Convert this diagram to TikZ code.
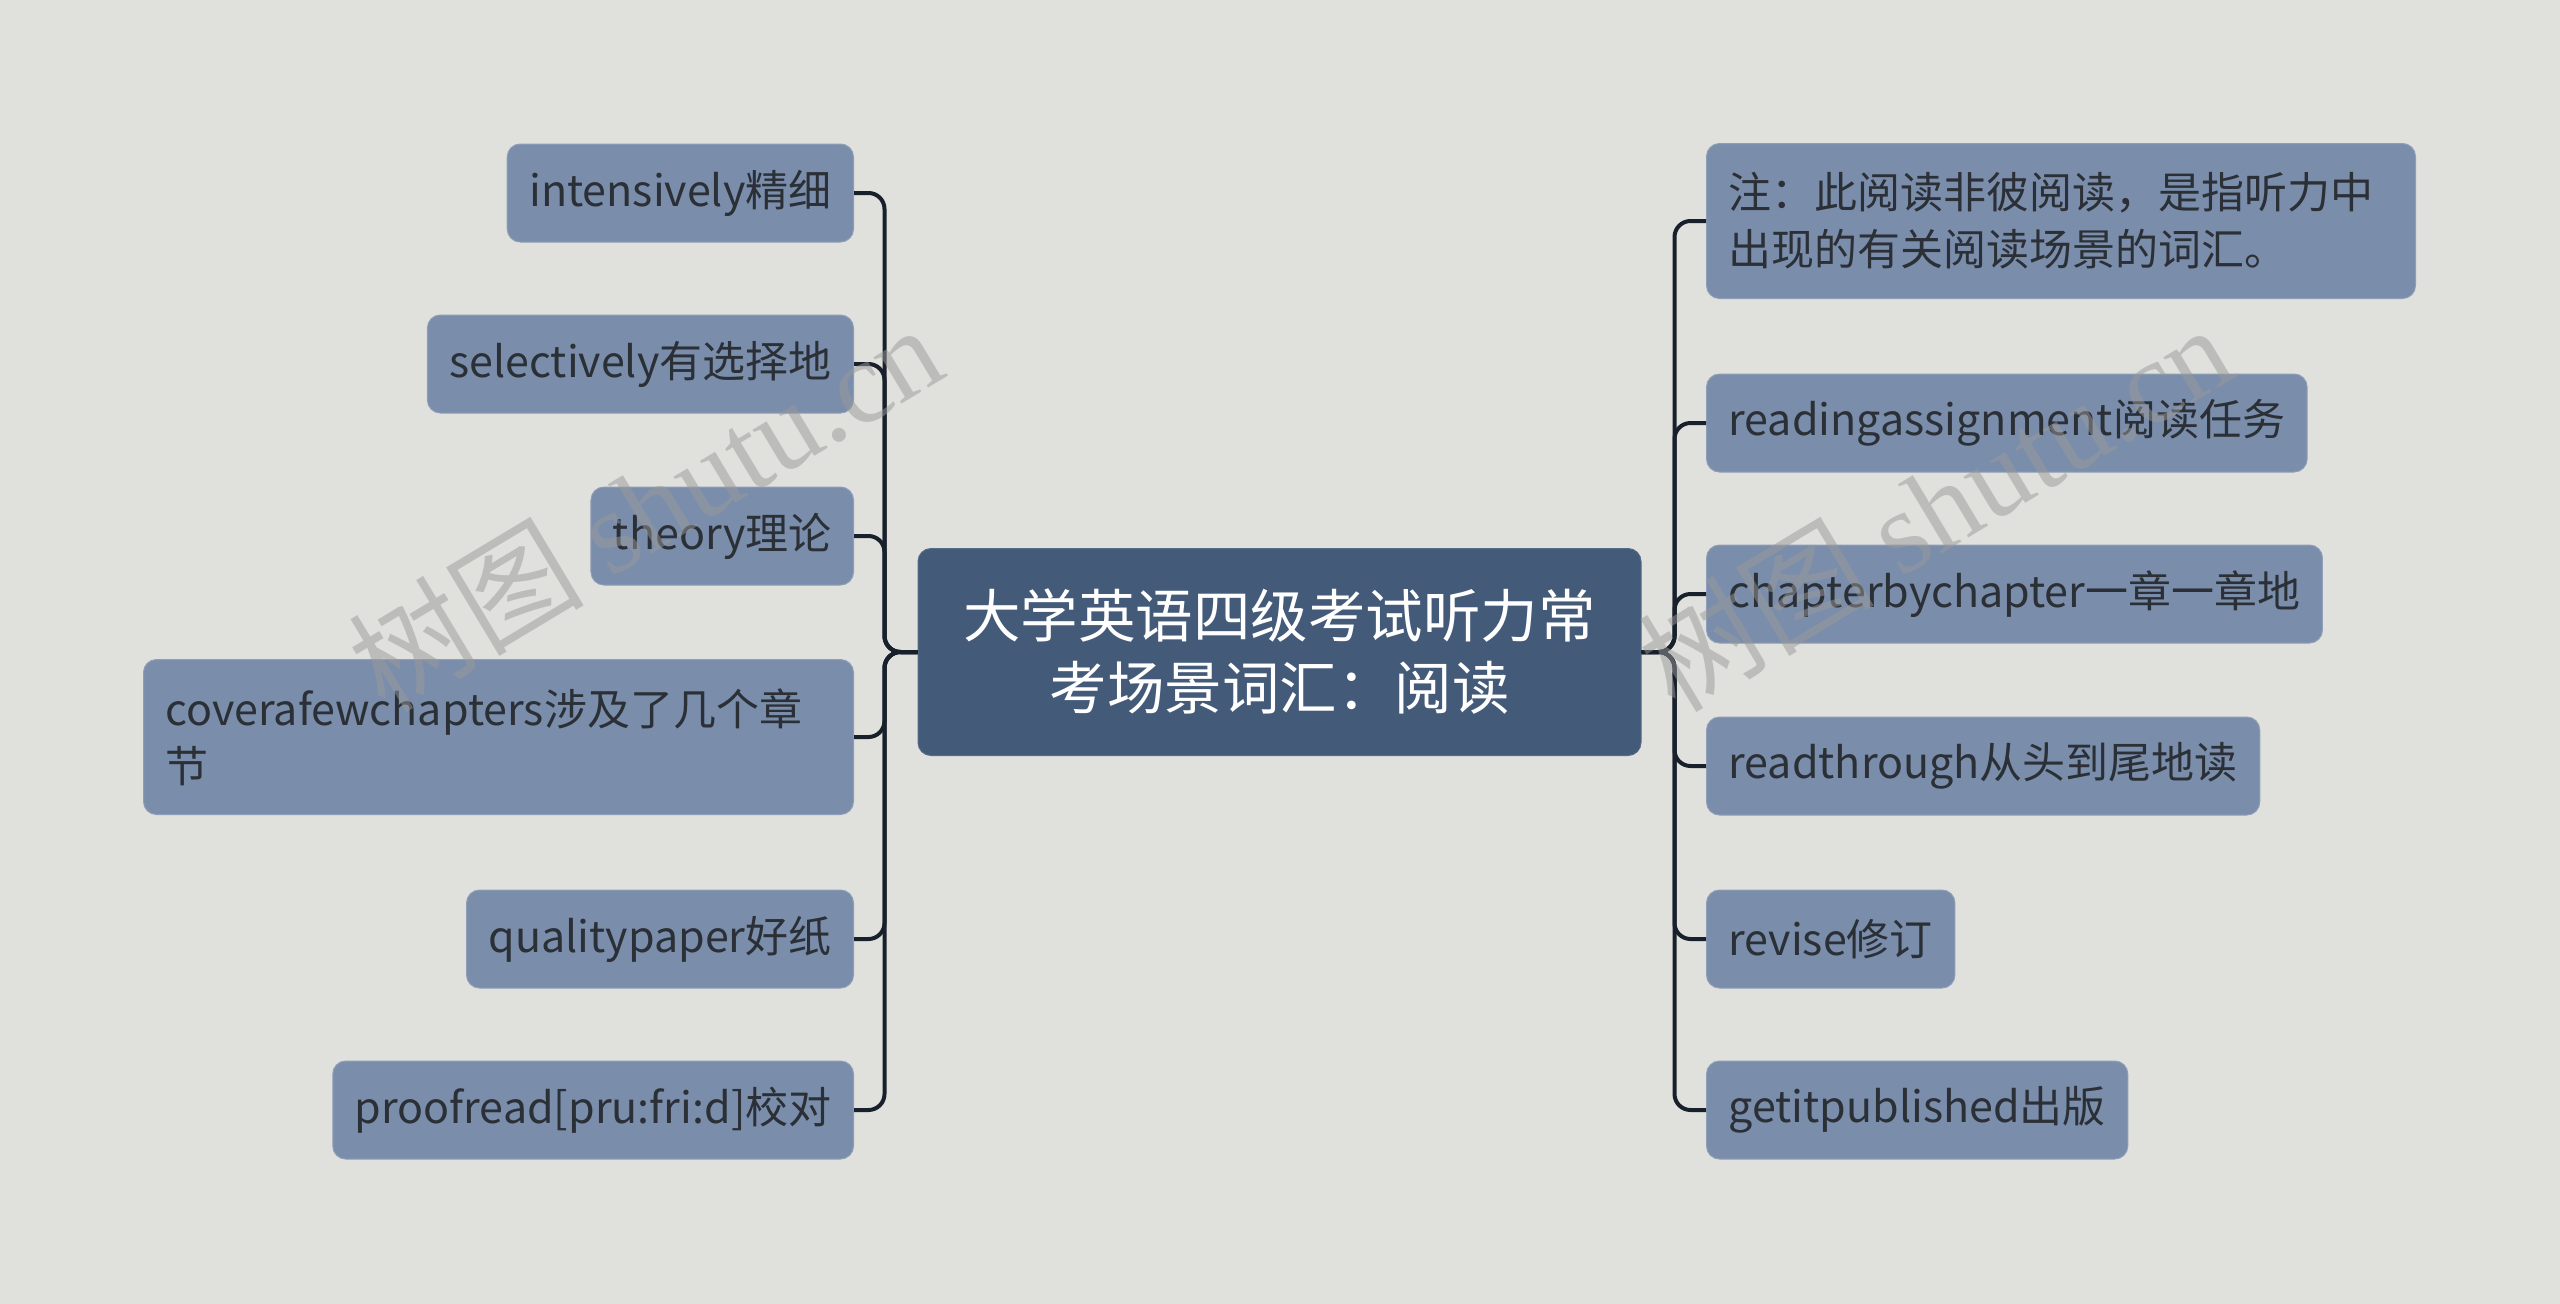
\documentclass[tikz,border=0pt]{standalone}
\usepackage{fontspec}
\setmainfont{Noto Sans CJK SC}
\newfontfamily\wmserif{Liberation Serif}
\definecolor{bg}{HTML}{E0E1DC}
\definecolor{leaffill}{HTML}{7A8DAB}
\definecolor{rootfill}{HTML}{435A79}
\definecolor{leaftext}{HTML}{2B2F36}
\definecolor{conncol}{HTML}{18202C}
\definecolor{wm}{HTML}{9A9A9A}
\tikzset{
  leaf/.style={fill=leaffill, draw=leaffill!85!white, line width=1pt, rounded corners=13pt,
    text=leaftext, font=\fontsize{43}{57}\selectfont, align=left,
    inner xsep=22pt, inner ysep=0pt, minimum height=98pt},
  rootnode/.style={fill=rootfill, draw=rootfill!90!white, line width=1pt, rounded corners=13pt,
    text=white, font=\fontsize{57.5}{72}\selectfont, align=center,
    minimum width=723pt, minimum height=207pt, inner sep=0pt},
  conn/.style={draw=conncol, line width=4pt, rounded corners=16pt},
  wmark/.style={text=wm, opacity=0.5, rotate=31, font=\fontsize{118}{118}\selectfont}
}
\begin{document}
\begin{tikzpicture}[x=1pt,y=-1pt]
\fill[bg] (0,0) rectangle (2560,1304);
\useasboundingbox (0,0) rectangle (2560,1304);

\node[rootnode] (c) at (1279.5,652) {大学英语四级考试听力常\\考场景词汇：阅读};

% left leaves
\node[leaf, anchor=east] (l1) at (854,193) {intensively精细};
\node[leaf, anchor=east] (l2) at (854,364) {selectively有选择地};
\node[leaf, anchor=east] (l3) at (854,536) {theory理论};
\node[leaf, anchor=east, minimum height=155pt, text width=666pt] (l4) at (854,737) {coverafewchapters涉及了几个章\\节};
\node[leaf, anchor=east] (l5) at (854,939) {qualitypaper好纸};
\node[leaf, anchor=east] (l6) at (854,1110) {proofread[pru:fri:d]校对};

% right leaves
\node[leaf, anchor=west, minimum height=155pt, text width=665pt] (r1) at (1706,221) {注：此阅读非彼阅读，是指听力中\\出现的有关阅读场景的词汇。};
\node[leaf, anchor=west] (r2) at (1706,423) {readingassignment阅读任务};
\node[leaf, anchor=west] (r3) at (1706,594) {chapterbychapter一章一章地};
\node[leaf, anchor=west] (r4) at (1706,766) {readthrough从头到尾地读};
\node[leaf, anchor=west] (r5) at (1706,939) {revise修订};
\node[leaf, anchor=west] (r6) at (1706,1110) {getitpublished出版};

% connectors
\foreach \n in {l1,l2,l3,l4,l5,l6}{
  \draw[conn] (c.west) -- ++(-33,0) |- (\n.east);
}
\foreach \n in {r1,r2,r3,r4,r5,r6}{
  \draw[conn] (c.east) -- ++(33,0) |- (\n.west);
}

% watermarks
\node[wmark] (w1) at (645,506) {树图 {\wmserif shutu.cn}};
\node[wmark] (w2) at (1935,506) {树图 {\wmserif shutu.cn}};
\end{tikzpicture}
\end{document}
